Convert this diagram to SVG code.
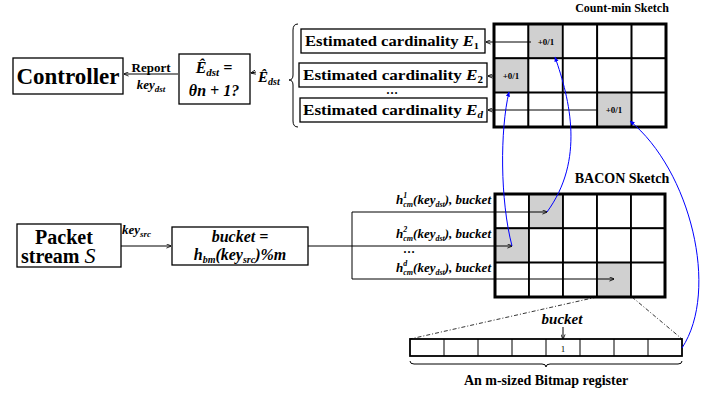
<svg xmlns="http://www.w3.org/2000/svg" width="720" height="397" viewBox="0 0 720 397" font-family="'Liberation Serif','DejaVu Serif',serif">
<defs>
<marker id="ah" viewBox="0 0 6 6" refX="5.5" refY="3" markerWidth="5" markerHeight="5" orient="auto-start-reverse" markerUnits="userSpaceOnUse">
<path d="M0,0.5 L6,3 L0,5.5" fill="none" stroke="#000" stroke-width="1"/>
</marker>
<marker id="ab" viewBox="0 0 6 6" refX="5.5" refY="3" markerWidth="5" markerHeight="5" orient="auto-start-reverse" markerUnits="userSpaceOnUse">
<path d="M0,0.5 L6,3 L0,5.5 Z" fill="#00f" stroke="none"/>
</marker>
</defs>
<style>
text{font-family:"Liberation Serif","DejaVu Serif",serif;fill:#000}
.b{font-weight:bold}
.m{font-weight:bold;font-style:italic}
.box{fill:#fff;stroke:#000;stroke-width:1.3}
.cell{fill:#fff;stroke:#000;stroke-width:1.8}
.sh{fill:#d0d0d0;stroke:#000;stroke-width:1.8}
.outer{fill:none;stroke:#000;stroke-width:3}
.ln{fill:none;stroke:#000;stroke-width:1}
.blue{fill:none;stroke:#00f;stroke-width:1}
.dd{fill:none;stroke:#000;stroke-width:0.8;stroke-dasharray:4 2 1 2}
.p{font-size:9px;font-weight:bold}
</style>

<g id="controller">
<rect class="box" x="13" y="58" width="110" height="36"/>
<text class="b" x="68" y="84" font-size="23" text-anchor="middle">Controller</text>
</g>

<g id="check">
<rect class="box" x="179" y="54" width="71" height="50"/>
<text class="m" x="214" y="73" font-size="16" text-anchor="middle">Ê<tspan font-size="11" dy="3">dst</tspan><tspan dy="-3"> =</tspan></text>
<text class="m" x="214" y="96" font-size="16" text-anchor="middle">θn + 1?</text>
</g>

<g id="edst-label">
<text class="m" x="258" y="82" font-size="15">Ê<tspan font-size="10" dy="3">dst</tspan></text>
</g>

<g id="estimates">
<path class="ln" d="M298,24 Q293,24 293,30 L293,75 Q293,80 289,80 Q293,80 293,85 L293,121 Q293,127 298,127"/>
<g id="est1">
<rect class="box" x="301" y="29" width="184" height="24"/>
<text class="b" x="305" y="46" font-size="14.5" textLength="174" lengthAdjust="spacingAndGlyphs">Estimated cardinality <tspan font-style="italic">E</tspan><tspan font-size="9" dy="3">1</tspan></text>
</g>
<g id="est2">
<rect class="box" x="299" y="63" width="188" height="24"/>
<text class="b" x="303" y="80" font-size="15.5" textLength="180" lengthAdjust="spacingAndGlyphs">Estimated cardinality <tspan font-style="italic">E</tspan><tspan font-size="10" dy="3">2</tspan></text>
</g>
<text class="b" x="392" y="94" font-size="12" text-anchor="middle">…</text>
<g id="estd">
<rect class="box" x="300" y="98" width="187" height="24"/>
<text class="b" x="303" y="115" font-size="15.5" textLength="180" lengthAdjust="spacingAndGlyphs">Estimated cardinality <tspan font-style="italic">E</tspan><tspan font-size="10" font-style="italic" dy="3">d</tspan></text>
</g>
</g>

<g id="countmin">
<text class="b" x="622" y="12" font-size="12" text-anchor="middle">Count-min Sketch</text>
<g>
<rect class="cell" x="494" y="24" width="34.4" height="34.3"/>
<rect class="sh" x="528.4" y="24" width="34.4" height="34.3"/>
<rect class="cell" x="562.8" y="24" width="34.4" height="34.3"/>
<rect class="cell" x="597.2" y="24" width="34.4" height="34.3"/>
<rect class="cell" x="631.6" y="24" width="34.4" height="34.3"/>
<rect class="sh" x="494" y="58.3" width="34.4" height="34.3"/>
<rect class="cell" x="528.4" y="58.3" width="34.4" height="34.3"/>
<rect class="cell" x="562.8" y="58.3" width="34.4" height="34.3"/>
<rect class="cell" x="597.2" y="58.3" width="34.4" height="34.3"/>
<rect class="cell" x="631.6" y="58.3" width="34.4" height="34.3"/>
<rect class="cell" x="494" y="92.6" width="34.4" height="34.4"/>
<rect class="cell" x="528.4" y="92.6" width="34.4" height="34.4"/>
<rect class="cell" x="562.8" y="92.6" width="34.4" height="34.4"/>
<rect class="sh" x="597.2" y="92.6" width="34.4" height="34.4"/>
<rect class="cell" x="631.6" y="92.6" width="34.4" height="34.4"/>
<rect class="outer" x="494" y="24" width="172" height="103"/>
</g>
<text class="p" x="546" y="45" text-anchor="middle">+0/1</text>
<text class="p" x="511" y="79" text-anchor="middle">+0/1</text>
<text class="p" x="614" y="113" text-anchor="middle">+0/1</text>
</g>

<g id="packet">
<rect class="box" x="17" y="224" width="104" height="43"/>
<text class="b" x="64" y="244" font-size="20" text-anchor="middle">Packet</text>
<text class="b" x="21" y="263" font-size="20">stream <tspan font-weight="normal" font-style="italic" font-size="22">S</tspan></text>
</g>

<g id="bucketbox">
<rect class="box" x="172" y="227" width="136" height="38"/>
<text class="m" x="240" y="242" font-size="16" text-anchor="middle">bucket =</text>
<text class="m" x="240" y="260" font-size="16" text-anchor="middle">h<tspan font-size="10" dy="3">bm</tspan><tspan dy="-3">(key</tspan><tspan font-size="10" dy="3">src</tspan><tspan dy="-3">)%m</tspan></text>
</g>

<g id="hash-labels">
<text class="m" x="491" y="204" font-size="13" text-anchor="end">h<tspan font-size="8" dy="-6">1</tspan><tspan font-size="8" dx="-4" dy="9">cm</tspan><tspan dy="-3">(key</tspan><tspan font-size="8" dy="3">dst</tspan><tspan dy="-3">), bucket</tspan></text>
<text class="m" x="491" y="238" font-size="13" text-anchor="end">h<tspan font-size="8" dy="-6">2</tspan><tspan font-size="8" dx="-4" dy="9">cm</tspan><tspan dy="-3">(key</tspan><tspan font-size="8" dy="3">dst</tspan><tspan dy="-3">), bucket</tspan></text>
<text class="b" x="409" y="253" font-size="12" text-anchor="middle">…</text>
<text class="m" x="491" y="272" font-size="13" text-anchor="end">h<tspan font-size="8" dy="-6">d</tspan><tspan font-size="8" dx="-4" dy="9">cm</tspan><tspan dy="-3">(key</tspan><tspan font-size="8" dy="3">dst</tspan><tspan dy="-3">), bucket</tspan></text>
</g>

<g id="bacon">
<text class="b" x="622" y="183" font-size="14" text-anchor="middle">BACON Sketch</text>
<rect class="cell" x="495" y="194" width="34" height="34.3"/>
<rect class="sh" x="529" y="194" width="34" height="34.3"/>
<rect class="cell" x="563" y="194" width="34" height="34.3"/>
<rect class="cell" x="597" y="194" width="34" height="34.3"/>
<rect class="cell" x="631" y="194" width="34" height="34.3"/>
<rect class="sh" x="495" y="228.3" width="34" height="34.3"/>
<rect class="cell" x="529" y="228.3" width="34" height="34.3"/>
<rect class="cell" x="563" y="228.3" width="34" height="34.3"/>
<rect class="cell" x="597" y="228.3" width="34" height="34.3"/>
<rect class="cell" x="631" y="228.3" width="34" height="34.3"/>
<rect class="cell" x="495" y="262.6" width="34" height="34.4"/>
<rect class="cell" x="529" y="262.6" width="34" height="34.4"/>
<rect class="cell" x="563" y="262.6" width="34" height="34.4"/>
<rect class="sh" x="597" y="262.6" width="34" height="34.4"/>
<rect class="cell" x="631" y="262.6" width="34" height="34.4"/>
<rect class="outer" x="495" y="194" width="170" height="103"/>
</g>

<g id="bitmap">
<rect x="410" y="339" width="272" height="17" fill="#fff" stroke="#000" stroke-width="1.8"/>
<path class="ln" d="M444,339V356M478,339V356M512,339V356M546,339V356M580,339V356M614,339V356M648,339V356"/>
<text x="563" y="352" font-size="9" text-anchor="middle">1</text>
<path class="ln" d="M410,361 Q410,364 414,364 L542,364 Q546,364 546,367 Q546,364 550,364 L678,364 Q682,364 682,361" stroke-width="0.9"/>
<text class="b" x="546" y="385" font-size="14" text-anchor="middle">An m-sized Bitmap register</text>
<text class="m" x="562" y="324" font-size="15" font-weight="normal" text-anchor="middle">bucket</text>
</g>

<g id="connectors">
<line class="ln" x1="178" y1="74" x2="124" y2="74" marker-end="url(#ah)"/>
<text class="b" x="151" y="72" font-size="13" text-anchor="middle">Report</text>
<text class="m" x="151" y="89" font-size="13" text-anchor="middle">key<tspan font-size="9" dy="3">dst</tspan></text>
<line class="ln" x1="256" y1="72" x2="251" y2="73" marker-end="url(#ah)"/>
<line class="ln" x1="531" y1="42" x2="486" y2="42" marker-end="url(#ah)"/>
<line class="ln" x1="495" y1="76" x2="488" y2="76" marker-end="url(#ah)"/>
<line class="ln" x1="598" y1="110" x2="488" y2="110" marker-end="url(#ah)"/>
<line class="ln" x1="121" y1="246" x2="171" y2="246" marker-end="url(#ah)"/>
<text class="m" x="122" y="234" font-size="13">key<tspan font-size="9" dy="3">src</tspan></text>
<path class="ln" d="M308,246 L352,246 M352,212 L352,279"/>
<line class="ln" x1="352" y1="212" x2="547" y2="212" marker-end="url(#ah)"/>
<line class="ln" x1="352" y1="246" x2="512" y2="246" marker-end="url(#ah)"/>
<line class="ln" x1="352" y1="279" x2="614" y2="279" marker-end="url(#ah)"/>
<path class="dd" d="M597,297 L410,339 M632,297 L682,339"/>
<line class="ln" x1="563" y1="327" x2="563" y2="339" marker-end="url(#ah)"/>
<path class="blue" d="M555,57 C570,100 585,160 547,212" marker-start="url(#ab)"/>
<path class="blue" d="M509,92 C500,130 500,200 512,246" marker-start="url(#ab)"/>
<path class="blue" d="M630,121 C690,170 720,290 682,348" marker-start="url(#ab)"/>
</g>
</svg>
